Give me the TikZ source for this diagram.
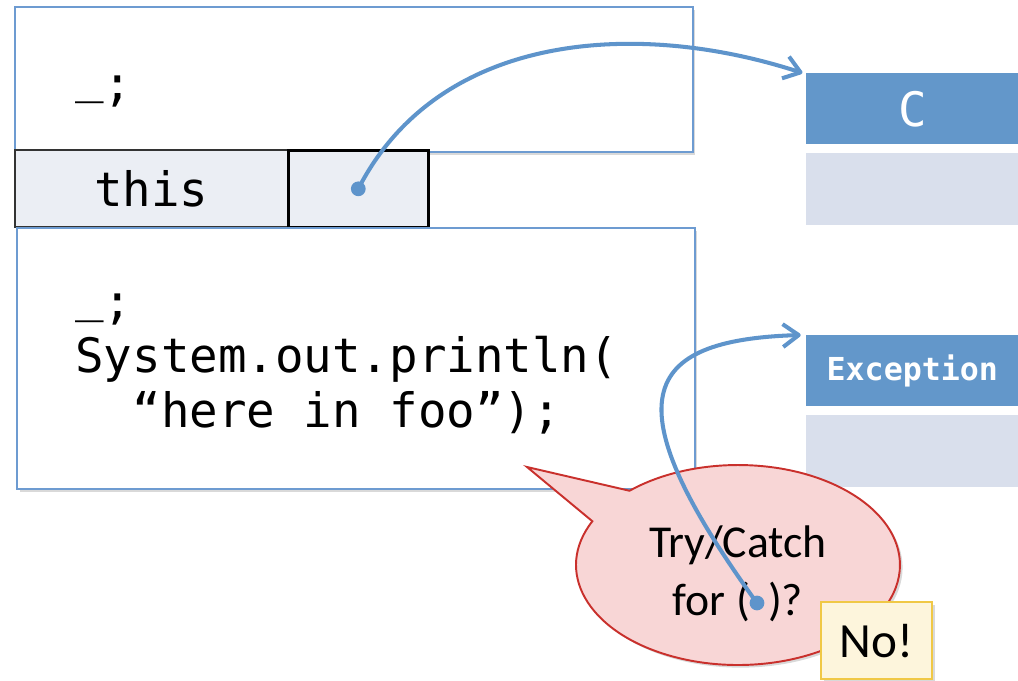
\documentclass[tikz,border=0pt]{standalone}
\usepackage{fontspec}
\setmainfont{Carlito}
\setmonofont{DejaVu Sans Mono}
\usetikzlibrary{arrows.meta, positioning, shapes.callouts, shadows}
\definecolor{FrameBlue}{HTML}{6D9BD1}
\definecolor{HeadBlue}{HTML}{6397CA}
\definecolor{BodyGray}{HTML}{D9DFEC}
\definecolor{CellGray}{HTML}{EBEEF4}
\definecolor{PtrBlue}{HTML}{5E94CB}
\definecolor{BubbleRed}{HTML}{C9302C}
\definecolor{BubbleFill}{HTML}{F8D6D6}
\definecolor{NoGold}{HTML}{F0C846}
\definecolor{NoFill}{HTML}{FDF5DC}
\newcommand{\hole}{\raisebox{4pt}{\_};}

\begin{document}
\begin{tikzpicture}[x=0.02cm, y=-0.02cm,
  boxshadow/.style={drop shadow={shadow xshift=1.5pt, shadow yshift=-1.5pt, opacity=0.3}},
  framebox/.style={draw=FrameBlue, line width=1.1pt, fill=white, boxshadow, anchor=north west, minimum width=13.56cm},
  cell/.style={draw=black!80, line width=1pt, fill=CellGray, anchor=north west, minimum height=1.54cm, inner sep=0pt},
  head/.style={fill=HeadBlue, text=white, anchor=north west, minimum width=4.24cm, minimum height=1.42cm, inner sep=0pt},
  body/.style={fill=BodyGray, anchor=north west, minimum width=4.24cm, minimum height=1.44cm},
  code/.style={font=\fontsize{27}{31}\selectfont\ttfamily, align=left, inner sep=0pt},
  ptrarrow/.style={PtrBlue, line width=2.3pt, line cap=round, -{Straight Barb[length=9pt, width=13pt, line join=round]}},
  bubble/.style={ellipse callout, draw=BubbleRed, line width=1.1pt, fill=BubbleFill, boxshadow, minimum width=6.48cm, minimum height=4cm, callout pointer arc=22, align=center, font=\fontsize{26}{33}\selectfont},
  answer/.style={draw=NoGold, line width=1.3pt, fill=NoFill, boxshadow, anchor=north west, minimum width=2.22cm, minimum height=1.54cm, font=\fontsize{28}{30}\selectfont},
]
\useasboundingbox (0,0) rectangle (1018,680);

\node[framebox, minimum height=2.9cm] (outer) at (14,6) {};
\node[code, anchor=base west] (outercode) at (75,100) {\hole};
\node[cell, minimum width=5.46cm, code] (thisname) at (14,149) {this};
\node[cell, minimum width=2.8cm, draw=black, line width=1.5pt] (ptr) at (287,149) {};
\node[framebox, minimum height=5.22cm] (foo) at (16,227) {};
\node[code, anchor=base west] (foocode) at (75,427) {\hole\\System.out.println(\\\phantom{xx}“here in foo”);};

\node[head, font=\fontsize{27}{30}\selectfont\ttfamily] (Chead) at (806,73) {C};
\node[body] (Cbody) at (806,153) {};
\node[head, font=\fontsize{18}{20}\selectfont\ttfamily\bfseries] (Exhead) at (806,335) {\raisebox{3pt}{Exception}};
\node[body] (Exbody) at (806,415) {};

\fill[PtrBlue] (ptr.center) circle (4.2pt);
\draw[ptrarrow] (ptr.center) .. controls (440,30) and (640,20) .. ([xshift=-2pt]Chead.north west);

\node[bubble, callout absolute pointer={(527,467)}] (ask) at (738,565) {\rule{0pt}{28pt}Try/Catch\\for (~\,)?};
\coordinate (exref) at (757,603);
\fill[PtrBlue] (exref) circle (4.2pt);
\draw[ptrarrow] (exref) .. controls (610,400) and (640,340) .. ([xshift=-3pt]Exhead.north west);

\node[answer] (no) at (820,601) {No!};
\end{tikzpicture}
\end{document}
